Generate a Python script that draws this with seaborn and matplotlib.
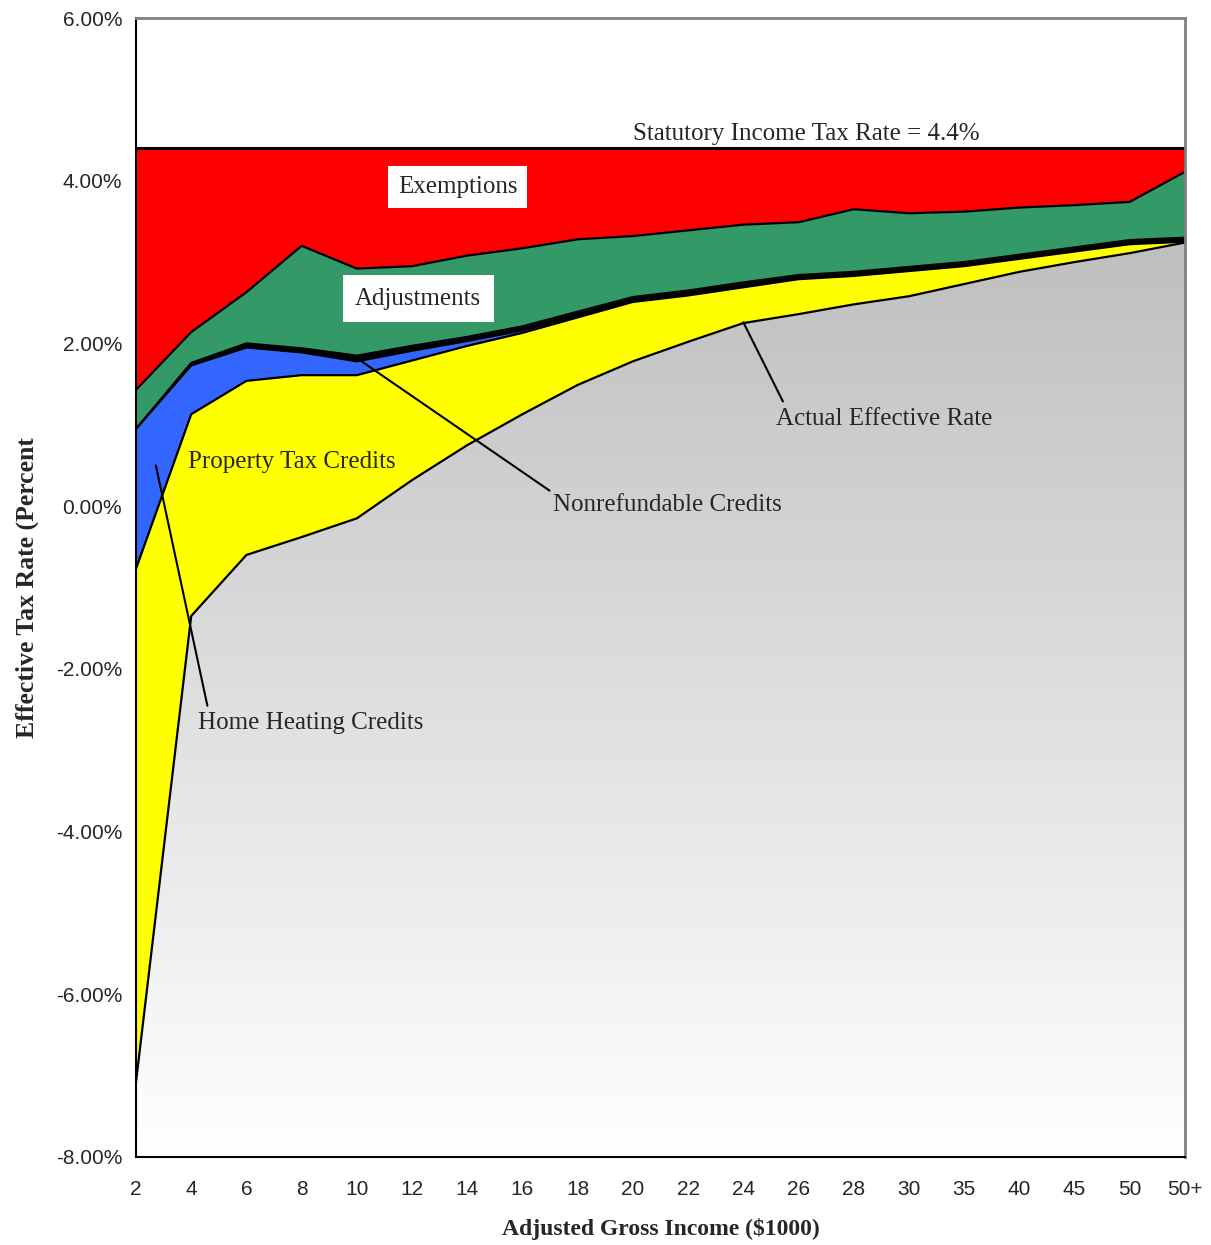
import numpy as np
import matplotlib
matplotlib.use("Agg")
import matplotlib.pyplot as plt
import seaborn as sns
import pandas as pd

# ---- data (percent) ----
income_labels = ["2", "4", "6", "8", "10", "12", "14", "16", "18", "20",
                 "22", "24", "26", "28", "30", "35", "40", "45", "50", "50+"]
actual_rate = [-7.08, -1.35, -0.60, -0.38, -0.15, 0.32, 0.75, 1.13, 1.49, 1.78,
               2.02, 2.25, 2.36, 2.48, 2.58, 2.73, 2.88, 3.00, 3.11, 3.24]
property_tax_credits = [6.31, 2.48, 2.14, 1.99, 1.76, 1.47, 1.22, 1.00, 0.83, 0.73,
                        0.57, 0.44, 0.43, 0.35, 0.31, 0.22, 0.16, 0.13, 0.11, 0.01]
home_heating_credits = [1.72, 0.60, 0.41, 0.28, 0.17, 0.12, 0.06, 0.03, 0.02, 0.01,
                        0.01, 0.01, 0.01, 0.01, 0.01, 0.01, 0.01, 0.01, 0.01, 0.01]
nonrefundable_credits = [0.00, 0.03, 0.05, 0.05, 0.07, 0.06, 0.05, 0.05, 0.05, 0.05,
                         0.05, 0.05, 0.04, 0.04, 0.04, 0.04, 0.04, 0.04, 0.04, 0.04]
adjustments = [0.48, 0.38, 0.63, 1.26, 1.07, 0.98, 1.00, 0.96, 0.89, 0.75,
               0.74, 0.71, 0.65, 0.77, 0.66, 0.62, 0.58, 0.52, 0.47, 0.81]
statutory_rate = 4.4
y_ticks = [-8, -6, -4, -2, 0, 2, 4, 6]

df = pd.DataFrame({
    "income": income_labels,
    "actual": actual_rate,
    "property": property_tax_credits,
    "heating": home_heating_credits,
    "nonref": nonrefundable_credits,
    "adjust": adjustments,
})
df["pos"] = np.arange(len(df))
df["top_property"] = df["actual"] + df["property"]
df["top_heating"] = df["top_property"] + df["heating"]
df["top_nonref"] = df["top_heating"] + df["nonref"]
df["top_adjust"] = df["top_nonref"] + df["adjust"]
df["statutory"] = statutory_rate

sns.set_style("white")
plt.rcParams["font.family"] = ["Liberation Sans", "DejaVu Sans"]

fig = plt.figure(figsize=(12.11, 12.45), dpi=100)
ax = fig.add_axes([136 / 1211, 1 - 1157 / 1245, (1185 - 136) / 1211, (1157 - 18) / 1245])

x = df["pos"].values
ymin, ymax = -8, 6

# gray gradient area for actual effective rate
poly = ax.fill_between(x, ymin, df["actual"], facecolor="none", edgecolor="none")
grad = np.linspace(255, 190, 256).reshape(-1, 1) / 255.0
img = ax.imshow(np.dstack([grad, grad, grad]), extent=[0, len(x) - 1, ymin, 3.4],
                origin="lower", aspect="auto", zorder=1)
img.set_clip_path(poly.get_paths()[0], transform=ax.transData)

lw = 1.6
ax.fill_between(x, df["actual"], df["top_property"], color="#FFFF00", lw=0, zorder=2)
ax.fill_between(x, df["top_property"], df["top_heating"], color="#3366FF", lw=0, zorder=2)
ax.fill_between(x, df["top_heating"], df["top_nonref"], color="#000000", lw=0, zorder=2)
ax.fill_between(x, df["top_nonref"], df["top_adjust"], color="#339966", lw=0, zorder=2)
ax.fill_between(x, df["top_adjust"], df["statutory"], color="#FF0000", lw=0, zorder=2)

for col in ["actual", "top_property", "top_heating", "top_nonref", "top_adjust"]:
    sns.lineplot(x=x, y=df[col].values, ax=ax, color="black", lw=lw, zorder=3, legend=False)
sns.lineplot(x=x, y=df["statutory"].values, ax=ax, color="black", lw=2.2, zorder=3, legend=False)
ax.vlines(len(x) - 1, df["top_adjust"].iloc[-1], statutory_rate, color="black", lw=2.2, zorder=3)

ax.set_xlim(0, len(x) - 1)
ax.set_ylim(ymin, ymax)
ax.set_xticks(x)
ax.set_xticklabels(income_labels, fontsize=15)
ax.set_yticks(y_ticks)
ax.set_yticklabels([f"{v:.2f}%" for v in y_ticks], fontsize=15)
ax.tick_params(axis="x", direction="inout", length=9, width=1.2, color="black", pad=12)
ax.tick_params(axis="y", direction="out", length=6, width=1.2, color="black", pad=4)
ax.grid(False)

for s in ["top", "right"]:
    ax.spines[s].set_color("#808080")
    ax.spines[s].set_linewidth(2)
for s in ["left", "bottom"]:
    ax.spines[s].set_color("black")
    ax.spines[s].set_linewidth(1.5)
for s in ax.spines.values():
    s.set_zorder(5)

serif = ["Liberation Serif", "DejaVu Serif"]
ax.set_xlabel("Adjusted Gross Income ($1000)", fontsize=17, fontweight="bold",
              family=serif, labelpad=14)
ax.set_ylabel("Effective Tax Rate (Percent", fontsize=18.5, fontweight="bold",
              family=serif, labelpad=12)

tfs = 18
ax.text(12.14, 4.58, "Statutory Income Tax Rate = 4.4%", family=serif, fontsize=tfs,
        ha="center", va="center", zorder=6)
ax.text(5.83, 3.92, "Exemptions", family=serif, fontsize=tfs, ha="center", va="center", zorder=6,
        bbox=dict(facecolor="white", edgecolor="none", pad=7))
ax.text(5.11, 2.55, "Adjustments", family=serif, fontsize=tfs, ha="center", va="center", zorder=6,
        bbox=dict(facecolor="white", edgecolor="none", pad=9))
ax.text(0.94, 0.54, "Property Tax Credits", family=serif, fontsize=tfs, ha="left", va="center", zorder=6)

ax.annotate("Nonrefundable Credits", xy=(4.0, 1.82), xytext=(7.55, 0.02),
            family=serif, fontsize=tfs, ha="left", va="center", zorder=6,
            arrowprops=dict(arrowstyle="-", color="black", lw=1.5,
                            shrinkA=0, shrinkB=0, relpos=(-0.01, 1.1)))
ax.annotate("Home Heating Credits", xy=(0.36, 0.5), xytext=(1.13, -2.67),
            family=serif, fontsize=tfs, ha="left", va="center", zorder=6,
            arrowprops=dict(arrowstyle="-", color="black", lw=1.5,
                            shrinkA=0, shrinkB=0, relpos=(0.04, 1.3)))
ax.annotate("Actual Effective Rate", xy=(11.0, 2.26), xytext=(11.6, 1.07),
            family=serif, fontsize=tfs, ha="left", va="center", zorder=6,
            arrowprops=dict(arrowstyle="-", color="black", lw=1.5,
                            shrinkA=0, shrinkB=0, relpos=(0.03, 1.3)))

fig.savefig("out.png", dpi=100)
